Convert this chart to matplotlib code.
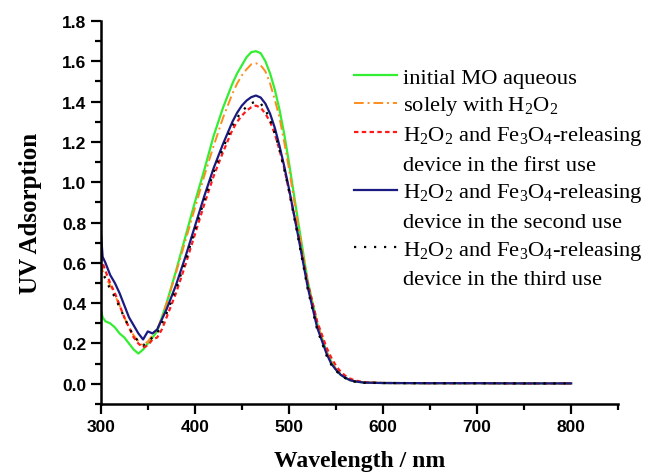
import matplotlib
matplotlib.use("Agg")
import matplotlib.pyplot as plt
from matplotlib.lines import Line2D
from matplotlib.ticker import MultipleLocator

plt.rcParams['mathtext.fontset'] = 'custom'
plt.rcParams['mathtext.rm'] = 'Liberation Serif'
plt.rcParams['mathtext.it'] = 'Liberation Serif:italic'
plt.rcParams['mathtext.bf'] = 'Liberation Serif:bold'

# Wellenlaengen (nm) und Absorption
wavelength = [300, 302, 305, 310, 315, 320, 325, 330, 335, 340, 345, 350, 355,
              360, 365, 370, 380, 390, 400, 410, 420, 430, 440, 445, 450, 455,
              460, 465, 470, 475, 480, 485, 490, 495, 500, 510, 520, 530, 540,
              545, 550, 555, 560, 565, 570, 580, 600, 650, 700, 750, 800]

initial_mo = [0.37, 0.33, 0.31, 0.30, 0.28, 0.25, 0.23, 0.20, 0.17, 0.15, 0.17,
              0.20, 0.23, 0.26, 0.33, 0.40, 0.56, 0.73, 0.90, 1.06, 1.23, 1.37,
              1.49, 1.54, 1.58, 1.62, 1.645, 1.65, 1.64, 1.60, 1.54, 1.46, 1.36,
              1.24, 1.10, 0.80, 0.51, 0.30, 0.16, 0.11, 0.07, 0.045, 0.03, 0.018,
              0.012, 0.006, 0.004, 0.003, 0.003, 0.002, 0.002]

solely_h2o2 = [0.60, 0.56, 0.53, 0.49, 0.44, 0.39, 0.33, 0.28, 0.24, 0.21, 0.19,
               0.21, 0.24, 0.27, 0.33, 0.40, 0.55, 0.71, 0.87, 1.03, 1.18, 1.32,
               1.44, 1.49, 1.53, 1.56, 1.585, 1.59, 1.58, 1.55, 1.49, 1.41, 1.32,
               1.20, 1.07, 0.78, 0.50, 0.30, 0.16, 0.11, 0.075, 0.05, 0.033, 0.02,
               0.013, 0.007, 0.004, 0.003, 0.003, 0.002, 0.002]

first_use = [0.63, 0.60, 0.56, 0.50, 0.45, 0.39, 0.33, 0.28, 0.23, 0.20, 0.18,
             0.19, 0.22, 0.23, 0.27, 0.33, 0.45, 0.59, 0.74, 0.89, 1.03, 1.15,
             1.26, 1.30, 1.33, 1.355, 1.372, 1.38, 1.37, 1.34, 1.30, 1.24, 1.16,
             1.07, 0.96, 0.74, 0.50, 0.31, 0.18, 0.13, 0.09, 0.06, 0.04, 0.026,
             0.017, 0.008, 0.004, 0.003, 0.003, 0.002, 0.002]

second_use = [0.76, 0.63, 0.60, 0.54, 0.50, 0.45, 0.39, 0.33, 0.29, 0.25, 0.22,
              0.26, 0.25, 0.27, 0.32, 0.37, 0.49, 0.63, 0.78, 0.93, 1.07, 1.19,
              1.30, 1.345, 1.38, 1.405, 1.422, 1.43, 1.42, 1.39, 1.34, 1.27, 1.18,
              1.08, 0.97, 0.73, 0.48, 0.28, 0.15, 0.10, 0.07, 0.045, 0.03, 0.018,
              0.012, 0.006, 0.004, 0.003, 0.003, 0.002, 0.002]

third_use = [0.58, 0.55, 0.52, 0.47, 0.43, 0.38, 0.33, 0.28, 0.24, 0.21, 0.19,
             0.21, 0.23, 0.25, 0.30, 0.35, 0.47, 0.61, 0.76, 0.91, 1.05, 1.17,
             1.28, 1.32, 1.35, 1.375, 1.392, 1.40, 1.39, 1.36, 1.31, 1.245, 1.16,
             1.065, 0.96, 0.72, 0.47, 0.27, 0.14, 0.095, 0.065, 0.042, 0.028,
             0.017, 0.011, 0.005, 0.004, 0.003, 0.003, 0.002, 0.002]

fig = plt.figure(figsize=(6.5, 4.77), dpi=100)
ax = fig.add_axes([0.155, 0.151, 0.796, 0.803])

l1, = ax.plot(wavelength, initial_mo, color='#33ee33', lw=1.6, ls='-')
l2, = ax.plot(wavelength, solely_h2o2, color='#ff8c1a', lw=1.4, ls=(0, (5, 2, 1, 2)))
l3, = ax.plot(wavelength, first_use, color='#ff1a1a', lw=1.6, ls=(0, (2, 1.5)))
l4, = ax.plot(wavelength, second_use, color='#1a1a80', lw=1.6, ls='-')
l5, = ax.plot(wavelength, third_use, color='black', lw=1.6, ls=(0, (1, 3.5)))

ax.set_xlim(300, 850)
ax.set_ylim(-0.1, 1.8)
ax.xaxis.set_minor_locator(MultipleLocator(50))
ax.yaxis.set_minor_locator(MultipleLocator(0.1))
ax.set_xticks([300, 400, 500, 600, 700, 800])
ax.set_yticks([0.0, 0.2, 0.4, 0.6, 0.8, 1.0, 1.2, 1.4, 1.6, 1.8])

for s in ['top', 'right']:
    ax.spines[s].set_visible(False)
for s in ['left', 'bottom']:
    ax.spines[s].set_linewidth(1.8)

ax.tick_params(which='major', direction='out', length=7, width=1.6)
ax.tick_params(which='minor', direction='out', length=4, width=1.6)
for lab in ax.get_xticklabels() + ax.get_yticklabels():
    lab.set_fontfamily('Liberation Sans')
    lab.set_fontweight('bold')
    lab.set_fontsize(12.5)

ax.set_xlabel('Wavelength / nm', fontfamily='Liberation Serif', fontweight='bold',
              fontsize=17, labelpad=12)
ax.set_ylabel('UV Adsorption', fontfamily='Liberation Serif', fontweight='bold',
              fontsize=18, labelpad=14)

# Legende: Folgezeilen ohne Linie
blank = Line2D([], [], linestyle='none')
handles = [l1, l2, l3, blank, l4, blank, l5, blank]
labels = ['initial MO aqueous',
          r'solely with H$_2$O$_2$',
          r'H$_2$O$_2$ and Fe$_3$O$_4$-releasing',
          'device in the first use',
          r'H$_2$O$_2$ and Fe$_3$O$_4$-releasing',
          'device in the second use',
          r'H$_2$O$_2$ and Fe$_3$O$_4$-releasing',
          'device in the third use']
leg = ax.legend(handles, labels, loc='upper left', bbox_to_anchor=(0.489, 0.88),
                frameon=False, prop={'family': 'Liberation Serif', 'size': 16.2},
                handlelength=1.9, handletextpad=0.3, labelspacing=0.3,
                borderaxespad=0, borderpad=0)

fig.savefig('out.png', dpi=100)
